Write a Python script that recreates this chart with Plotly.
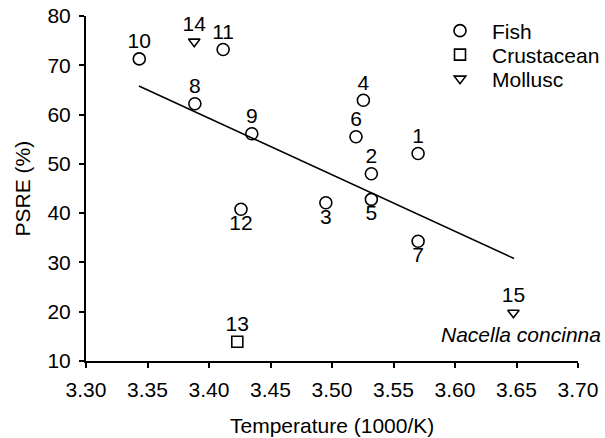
import plotly.graph_objects as go

# ---- data ----
fish_x = [3.570, 3.532, 3.495, 3.5255, 3.532, 3.5195, 3.570, 3.3885, 3.4348, 3.3433, 3.4115, 3.426]
fish_y = [52.1, 48.0, 42.1, 62.9, 42.8, 55.5, 34.3, 62.2, 56.1, 71.3, 73.2, 40.8]
fish_labels = ["1", "2", "3", "4", "5", "6", "7", "8", "9", "10", "11", "12"]
fish_textpos = ["top center", "top center", "bottom center", "top center", "bottom center",
                "top center", "bottom center", "top center", "top center", "top center",
                "top center", "bottom center"]

crust_x = [3.423]
crust_y = [13.9]
crust_labels = ["13"]

moll_x = [3.388, 3.6475]
moll_y = [74.8, 19.8]
moll_labels = ["14", "15"]

fit_x = [3.343, 3.648]
fit_y = [65.8, 30.8]

x_ticks = [3.30, 3.35, 3.40, 3.45, 3.50, 3.55, 3.60, 3.65, 3.70]
y_ticks = [10, 20, 30, 40, 50, 60, 70, 80]

FONT = "Liberation Sans, Arial, sans-serif"
FS = 21

fig = go.Figure()

# regression line
fig.add_trace(go.Scatter(x=fit_x, y=fit_y, mode="lines",
                         line=dict(color="black", width=1.5), showlegend=False,
                         hoverinfo="skip"))

marker_line = dict(color="black", width=1.6)
fig.add_trace(go.Scatter(x=fish_x, y=fish_y, mode="markers", name="Fish", legend="legend",
                         marker=dict(symbol="circle-open", size=12, color="black",
                                     line=marker_line)))
fig.add_trace(go.Scatter(x=crust_x, y=crust_y, mode="markers", name="Crustacean",
                         legend="legend2",
                         marker=dict(symbol="square-open", size=11, color="black",
                                     line=marker_line)))
fig.add_trace(go.Scatter(x=moll_x, y=moll_y, mode="markers", name="Mollusc",
                         legend="legend3",
                         marker=dict(symbol="triangle-down-open", size=10, color="black",
                                     line=marker_line)))

# point number labels (small invisible markers set the text offset)
ghost = dict(size=7, color="rgba(0,0,0,0)")
tf = dict(family=FONT, size=FS, color="black")
fig.add_trace(go.Scatter(x=fish_x, y=fish_y, mode="markers+text", text=fish_labels,
                         textposition=fish_textpos, showlegend=False, marker=ghost,
                         textfont=tf, hoverinfo="skip"))
fig.add_trace(go.Scatter(x=crust_x, y=crust_y, mode="markers+text", text=crust_labels,
                         textposition="top center", showlegend=False, marker=ghost,
                         textfont=tf, hoverinfo="skip"))
fig.add_trace(go.Scatter(x=moll_x, y=moll_y, mode="markers+text", text=moll_labels,
                         textposition="top center", showlegend=False, marker=ghost,
                         textfont=tf, hoverinfo="skip"))

fig.add_annotation(x=3.654, y=15.3, xref="x", yref="y", text="<i>Nacella concinna</i>",
                   showarrow=False, font=tf)

# axis titles
fig.add_annotation(x=(22 - 86) / 492, y=0.5, xref="paper", yref="paper", text="PSRE (%)",
                   textangle=-90, showarrow=False, xanchor="center", yanchor="middle",
                   font=tf)
fig.add_annotation(x=0.5, y=-(425 - 361) / 345, xref="paper", yref="paper",
                   text="Temperature (1000/K)", showarrow=False,
                   xanchor="center", yanchor="middle", font=tf)

axis_common = dict(showgrid=False, zeroline=False, showline=True, linecolor="black",
                   linewidth=2, ticks="outside", ticklen=5, tickwidth=2,
                   tickcolor="black", tickfont=tf)

fig.update_xaxes(range=[3.30, 3.70], tickvals=x_ticks,
                 ticktext=[f"{v:.2f}" for v in x_ticks], ticklabelstandoff=4,
                 **axis_common)
fig.update_yaxes(range=[10, 80], tickvals=y_ticks,
                 ticktext=[str(v) for v in y_ticks], ticklabelstandoff=4,
                 **axis_common)

leg_common = dict(x=(428 - 86) / 492, xanchor="left", yanchor="middle",
                  bgcolor="rgba(0,0,0,0)", itemwidth=54, tracegroupgap=0, font=tf)


def leg_y(px):
    return 1 - (px - 16) / 345


fig.update_layout(
    width=605, height=438,
    margin=dict(l=86, r=27, t=16, b=77, autoexpand=False),
    paper_bgcolor="white", plot_bgcolor="white",
    font=tf,
    showlegend=True,
    legend=dict(y=leg_y(31), **leg_common),
    legend2=dict(y=leg_y(55), **leg_common),
    legend3=dict(y=leg_y(79), **leg_common),
)

fig.write_html("out.html")
